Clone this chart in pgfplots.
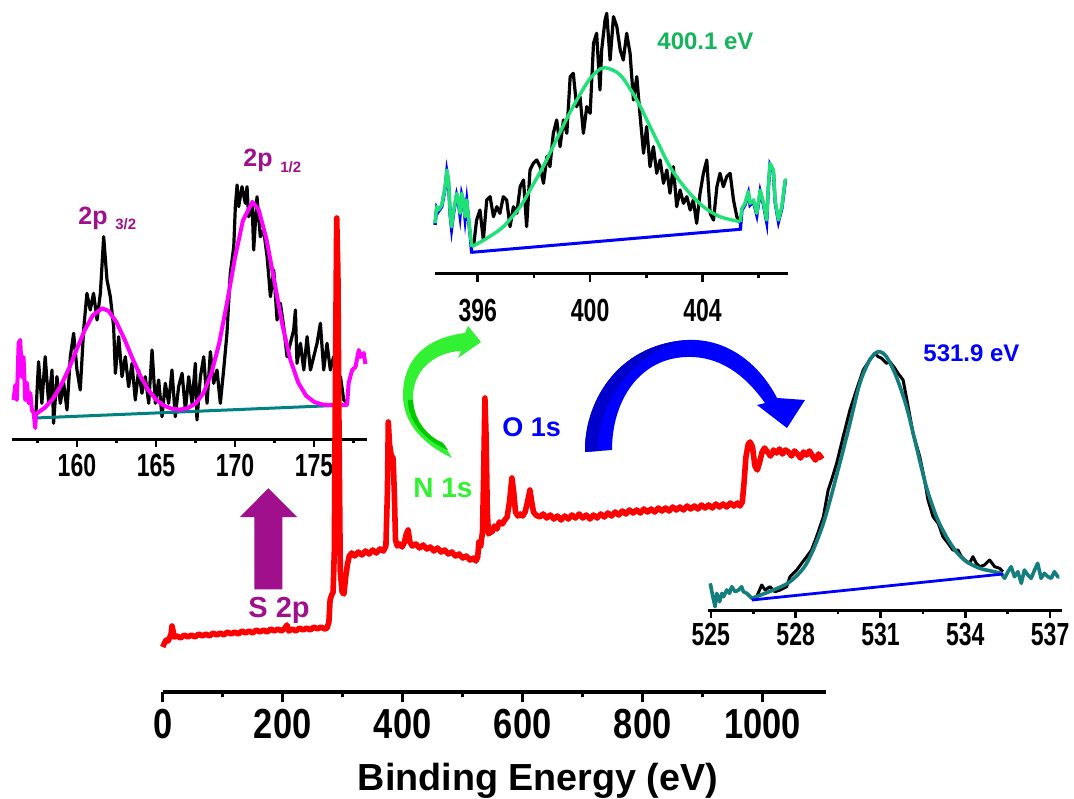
\documentclass[border=0pt]{standalone}
\usepackage{fontspec}
\setmainfont{Liberation Sans}
\newfontfamily\tickfont[FakeStretch=0.82]{Liberation Sans}
\newfontfamily\insetfont[FakeStretch=0.72]{Liberation Sans}
\usepackage{pgfplots}
\pgfplotsset{compat=1.18}

\definecolor{spurple}{RGB}{160,16,140}
\definecolor{fitmag}{RGB}{255,0,255}
\definecolor{fitgreen}{RGB}{30,225,120}
\definecolor{lblgreen}{RGB}{20,180,90}
\definecolor{ngreen}{RGB}{50,240,50}
\definecolor{dgreen}{RGB}{0,200,0}
\definecolor{oteal}{RGB}{20,125,125}
\definecolor{steal}{RGB}{0,130,130}
\definecolor{dblue}{RGB}{0,0,205}
\definecolor{pblue}{RGB}{0,0,255}
\definecolor{pred}{RGB}{255,0,0}

\pgfplotsset{
  inset/.style={scale only axis, anchor=south west, clip=false,
    axis x line*=bottom, axis y line=none, axis line style={line width=1.5pt,-},
    tick align=outside, major tick length=4pt, minor tick length=2pt,
    every tick/.style={black, line width=1.3pt}, ymin=0,
    /pgf/number format/assume math mode=true,
    xticklabel style={font=\insetfont\bfseries\fontsize{16}{16}\selectfont}},
}

\begin{document}
\begin{tikzpicture}
\useasboundingbox (0,0) rectangle (537pt,399pt);

% ---- S 2p inset
\begin{axis}[inset, at={(6pt,179.5pt)}, width=177.5pt, height=100pt,
  xmin=155.89, xmax=178.35, ymax=200,
  xtick={160,165,170,175}, minor xtick={157.5,162.5,167.5,172.5,177.5}]
\addplot[black, line width=1.6pt, line join=round] coordinates {
(157.36,12.3)(157.57,77.3)(157.78,35.7)(157.99,82.3)(158.21,35.7)(158.42,69)(158.52,15.7)
(158.73,62.3)(158.95,35.7)(159.16,55.7)(159.37,29)(159.58,82.3)(159.79,105.7)(160.00,69)
(160.21,49)(160.42,109)(160.63,145.7)(160.84,129)(161.05,145.7)(161.27,119)(161.48,145.7)
(161.69,202.3)(161.90,159)(162.11,142.3)(162.32,112.3)(162.43,65.7)(162.64,102.3)(162.85,62.3)
(163.06,82.3)(163.27,52.3)(163.48,75.7)(163.69,39)(163.90,69)(164.11,45.7)(164.32,62.3)
(164.54,35.7)(164.75,89)(164.96,35.7)(165.17,59)(165.38,22.3)(165.59,55.7)(165.80,35.7)
(166.01,69)(166.22,22.3)(166.43,52.3)(166.65,65.7)(166.86,29)(167.07,62.3)(167.28,35.7)
(167.49,75.7)(167.59,19)(167.81,62.3)(168.02,82.3)(168.23,35.7)(168.44,87.3)(168.65,55.7)
(168.86,69)(169.07,35.7)(169.28,69)(169.49,105.7)(169.70,165.7)(169.92,192.3)(170.02,232.3)
(170.13,254)(170.23,232.3)(170.44,252.3)(170.65,235.7)(170.76,252.3)(170.86,222.3)(171.08,235.7)
(171.18,189)(171.39,242.3)(171.60,202.3)(171.81,209)(172.03,182.3)(172.24,142.3)(172.45,169)
(172.66,119)(172.87,135.7)(173.08,112.3)(173.29,82.3)(173.50,95.7)(173.71,109)(173.82,129)
(173.92,75.7)(174.14,95.7)(174.35,69)(174.56,102.3)(174.77,69)(174.98,82.3)(175.19,95.7)
(175.40,115.7)(175.61,69)(175.82,95.7)(176.03,69)(176.24,82.3)(176.46,52.3)(176.67,62.3)
(176.88,39)(177.09,35.7)};
\addplot[steal, line width=1.5pt] coordinates {(157.36,21)(177.09,34)};
\addplot[fitmag, line width=2pt, line join=round] coordinates {
(155.99,39)(156.10,54)(156.20,39)(156.31,96)(156.41,99)(156.52,62)(156.62,82)(156.73,39)
(156.84,56)(156.94,36)(157.05,46)(157.15,29)(157.26,26)(157.36,11)(157.40,25)
(157.6,27.1)(158.0,31.8)(158.5,40.7)(159.0,53.9)(159.5,70.8)(160.0,90.2)(160.5,109.1)
(161.0,123.6)(161.6,130.7)(162.0,128.0)(162.5,116.8)(163.0,100.0)(163.5,81.0)(164.0,63.4)
(164.5,49.4)(165.0,39.5)(165.5,33.4)(166.0,30.3)(166.5,29.4)(167.0,30.8)(167.5,35.5)
(168.0,45.8)(168.5,65.3)(169.0,95.9)(169.5,136.7)(170.0,181.4)(170.5,218.5)(171.1,237.1)
(171.5,229.1)(172.0,199.1)(172.5,156.7)(173.0,113.8)(173.5,79.3)(174.0,56.3)(174.5,43.2)
(175.0,37.1)(175.5,34.6)(176.0,33.9)(176.7,34)(177.09,34)
(177.19,56)(177.41,69)(177.62,72)(177.83,89)(177.93,82)(178.14,86)(178.25,75)};
\end{axis}

% ---- N 1s inset
\begin{axis}[inset, at={(217.5pt,262pt)}, width=176.5pt, height=135pt,
  xmin=394.48, xmax=407.04, ymax=270,
  xtick={396,400,404}, minor xtick={398,402,406},
  xticklabel style={yshift=-5pt}]
\addplot[black, line width=1.6pt, line join=round] coordinates {
(395.85,27.3)(395.96,54)(396.08,64)(396.20,34)(396.32,74)(396.44,77.3)(396.56,57.3)
(396.68,67.3)(396.79,60.7)(396.91,77.3)(397.03,74)(397.15,47.3)(397.27,67.3)(397.39,60.7)
(397.51,87.3)(397.63,94)(397.74,47.3)(397.86,104)(397.98,110.7)(398.10,114)(398.22,107.3)
(398.34,90.7)(398.46,117.3)(398.57,107.3)(398.69,140.7)(398.81,154)(398.93,127.3)(399.05,154)
(399.17,140.7)(399.29,197.3)(399.40,200.7)(399.52,167.3)(399.64,177.3)(399.76,140.7)(399.88,167.3)
(400.00,160.7)(400.12,230.7)(400.23,240.7)(400.35,184)(400.41,224)(400.53,254)(400.59,260.7)
(400.71,214)(400.83,257.3)(400.95,247.3)(401.07,224)(401.18,214)(401.30,240.7)(401.42,220.7)
(401.54,174)(401.66,197.3)(401.78,157.3)(401.90,120.7)(402.01,147.3)(402.13,107.3)(402.25,127.3)
(402.37,100.7)(402.49,114)(402.61,90.7)(402.73,104)(402.84,80.7)(402.96,107.3)(403.08,67.3)
(403.20,84)(403.32,70.7)(403.44,77.3)(403.56,64)(403.67,74)(403.79,50.7)(403.91,80.7)
(404.03,100.7)(404.15,114)(404.27,60.7)(404.39,54)(404.51,87.3)(404.62,100.7)(404.74,87.3)
(404.86,97.3)(404.98,100.7)(405.10,74)(405.22,57.3)(405.34,50.7)};
\addplot[pblue, line width=1.5pt] coordinates {(395.79,21.7)(405.34,44.7)};
\addplot[pblue, line width=1.7pt, yshift=-0.8pt] coordinates {
(394.48,50.7)(394.54,67.3)(394.60,64)(394.72,69)(394.84,87.3)(394.90,104)(394.96,94)
(395.02,60.7)(395.07,47.3)(395.13,60.7)(395.25,80.7)(395.31,74)(395.37,60.7)(395.43,80.7)
(395.49,74)(395.55,57.3)(395.61,74)(395.67,57.3)(395.73,40.7)(395.79,22)};
\addplot[pblue, line width=1.7pt, yshift=-0.8pt] coordinates {
(405.34,45)(405.40,65.7)(405.51,70.7)(405.63,82.3)(405.69,70.7)(405.81,74)(405.93,60.7)
(406.05,84)(406.17,70.7)(406.28,54)(406.34,87.3)(406.40,110.7)(406.52,104)(406.58,74)
(406.70,54)(406.82,67.3)(406.94,94)(407.00,94)};
\addplot[fitgreen, line width=1.7pt, line join=round] coordinates {
(394.48,50.7)(394.54,67.3)(394.60,64)(394.72,69)(394.84,87.3)(394.90,104)(394.96,94)
(395.02,60.7)(395.07,47.3)(395.13,60.7)(395.25,80.7)(395.31,74)(395.37,60.7)(395.43,80.7)
(395.49,74)(395.55,57.3)(395.61,74)(395.67,57.3)(395.73,40.7)(395.79,27.3)};
\addplot[fitgreen, line width=1.7pt, smooth] coordinates {
(395.79,27.3)(396.32,35.7)(396.91,47.3)(397.51,67.3)(397.86,84)(398.34,108)(398.69,128)
(399.29,162)(399.88,190.7)(400.23,202.3)(400.53,206.3)(401.07,199)(401.66,174)(402.25,140.7)
(402.84,107.3)(403.44,84)(404.03,67.3)(404.62,57.3)(405.34,52.3)};
\addplot[fitgreen, line width=1.7pt, line join=round] coordinates {
(405.34,52.3)(405.40,65.7)(405.51,70.7)(405.63,82.3)(405.69,70.7)(405.81,74)(405.93,60.7)
(406.05,84)(406.17,70.7)(406.28,54)(406.34,87.3)(406.40,110.7)(406.52,104)(406.58,74)
(406.70,54)(406.82,67.3)(406.94,94)(407.00,94)};
\end{axis}

% ---- O 1s inset
\begin{axis}[inset, at={(354pt,94pt)}, width=176.85pt, height=135pt,
  xmin=524.9, xmax=537.41, ymax=270,
  xtick={525,528,531,534,537}, minor xtick={526.5,529.5,532.5,535.5},
  xticklabel style={yshift=1pt}]
\addplot[black, line width=1.5pt, line join=round] coordinates {
(526.45,10)(526.62,13.3)(526.80,25)(526.92,20)(527.09,23.3)(527.27,18.3)(527.45,20)
(527.68,23.3)(527.80,33.3)(527.92,36.7)(528.04,40)(528.21,46.7)(528.39,53.3)(528.56,60)
(528.74,73.3)(528.98,93.3)(529.15,120)(529.27,130)(529.45,146.7)(529.68,173.3)(529.92,200)
(530.15,220)(530.39,240)(530.62,250)(530.80,256.7)(530.92,253.3)(531.04,251.7)(531.21,246.7)
(531.33,248.3)(531.51,241.7)(531.62,236.7)(531.80,230)(531.98,203.3)(532.15,176.7)(532.39,153.3)
(532.56,130)(532.68,110)(532.86,93.3)(533.04,86.7)(533.21,73.3)(533.39,66.7)(533.56,60)
(533.74,60)(533.86,53.3)(533.98,50)(534.15,46.7)(534.27,53.3)(534.39,46.7)(534.51,43.3)
(534.68,45)(534.86,50)(535.04,43.3)(535.21,41.7)(535.33,38.3)};
\addplot[oteal, line width=1.8pt, line join=round] coordinates {
(524.98,26.7)(525.07,13.3)(525.15,3.3)(525.21,16.7)(525.31,8.3)(525.39,16.7)(525.45,13.3)
(525.56,20)(525.66,16.7)(525.74,23.3)(525.86,18.3)(525.98,20)(526.09,23.3)(526.15,18.3)
(526.27,16.7)(526.45,11.7)};
\addplot[oteal, line width=1.8pt, smooth] coordinates {
(526.45,11.7)(527.21,20)(527.80,28.3)(528.39,46.7)(528.98,86.7)(529.56,146.7)(529.92,186.7)
(530.27,226.7)(530.62,250)(530.92,258.3)(531.21,253.3)(531.56,233.3)(531.92,203.3)(532.27,163.3)
(532.62,123.3)(532.98,93.3)(533.33,73.3)(533.68,58.3)(534.04,48.3)(534.51,41.7)(534.86,39.3)
(535.27,36.7)};
\addplot[oteal, line width=1.8pt, line join=round] coordinates {
(535.27,36.7)(535.39,31.7)(535.51,38.3)(535.62,43.3)(535.74,33.3)(535.86,38.3)(535.98,26.7)
(536.09,40)(536.21,35)(536.33,31.7)(536.45,40)(536.56,46.7)(536.68,31.7)(536.80,36.7)
(536.92,33.3)(537.04,31.7)(537.15,38.3)(537.27,33.3)(537.33,33.3)};
\addplot[pblue, line width=1.4pt] coordinates {(526.45,10)(535.33,36)};
\end{axis}

% ---- survey spectrum
\begin{axis}[scale only axis, anchor=south west, at={(81.35pt,53pt)},
  width=331.5pt, height=250pt, xmin=0, xmax=1105, ymin=0, ymax=500, clip=false,
  axis x line*=bottom, axis y line=none, axis line style={line width=1.6pt,-},
  tick align=outside, major tick length=5pt, minor tick length=2.5pt,
  every tick/.style={black, line width=1.5pt},
  xtick={0,200,400,600,800,1000}, minor xtick={100,300,500,700,900},
  /pgf/number format/assume math mode=true, /pgf/number format/1000 sep={},
  xticklabel style={font=\tickfont\bfseries\fontsize{21}{21}\selectfont},
  xlabel={Binding Energy (eV)},
  xlabel style={font=\bfseries\fontsize{18.85}{20}\selectfont,
    at={(axis description cs:0.566,0)}, anchor=base, yshift=-49pt}]
\addplot[pred, line width=2.8pt, line join=round] coordinates {
(0,45)(3,49)(6,52)(9,51)(12,55)(14,58)(15.5,66)(17,62)(19,55)(24,56)(30,54)(36,57)(42,55)
(48,57)(54,55)(60,58)(66,56)(72,58)(78,56)(84,59)(90,57)(96,59)(102,57)(108,60)(114,58)
(120,60)(126,58)(132,61)(138,59)(144,61)(150,59)(156,62)(162,60)(168,62)(174,60)(180,63)
(186,61)(192,63)(198,61)(204,64)(207,67)(210,61)(216,63)(222,61)(228,64)(234,62)(240,64)
(246,62)(252,65)(258,63)(264,65)(270,63)(274,64)(277,70)(279,92)(281,96)(284,100)(286,140)
(288,320)(290,474)(292,420)(294,250)(296,120)(299,100)(302,98)(305,115)(308,128)(311,136)
(315,139)(320,136)(326,140)(332,137)(338,141)(344,138)(350,142)(356,139)(362,143)(368,141)
(372,146)(374.5,200)(376,270)(378,248)(381,236)(384,234)(386,200)(388,152)(391,146)(395,148)
(399,145)(403,150)(406,158)(409,162)(412,150)(416,146)(422,148)(428,144)(434,147)(440,143)
(446,145)(452,141)(458,144)(464,140)(470,142)(476,138)(482,140)(488,136)(494,138)(500,134)
(506,136)(512,132)(518,134)(522,131)(525,135)(527,150)(530,146)(533,160)(535,220)(537,294)
(539,255)(541,180)(543,158)(546,160)(549,160)(553,166)(557,163)(561,170)(566,168)(570,172)
(574,175)(578,190)(582,214)(585,200)(588,180)(592,176)(596,178)(600,176)(604,180)(608,190)
(612,202)(615,190)(618,180)(622,177)(628,175)(634,178)(640,174)(646,177)(652,173)(658,176)
(664,172)(670,176)(676,173)(682,177)(688,174)(694,178)(700,174)(706,177)(712,173)(718,177)
(724,174)(730,178)(736,175)(742,179)(748,176)(754,180)(760,177)(766,181)(772,178)(778,182)
(784,179)(790,182)(796,179)(802,183)(808,180)(814,183)(820,180)(826,184)(832,181)(838,184)
(844,181)(850,185)(856,182)(862,185)(868,182)(874,186)(880,183)(886,186)(892,183)(898,187)
(904,184)(910,187)(916,184)(922,188)(928,185)(934,188)(940,185)(946,189)(952,186)(958,189)
(962,186)(966,190)(969,210)(972,235)(976,248)(979,250)(983,245)(987,226)(991,222)(995,230)
(999,240)(1003,244)(1008,240)(1013,236)(1018,242)(1023,239)(1028,243)(1033,238)(1038,242)
(1043,240)(1048,236)(1053,241)(1058,238)(1063,234)(1068,240)(1073,237)(1078,241)(1083,236)
(1088,232)(1093,238)(1099,233)};
\end{axis}

% ---- annotations, in pixel coordinates of the figure
\begin{scope}[x=0.5pt, y=-0.5pt, yshift=399pt]
\fill[spurple] (254.3,589.3) -- (254.3,517) -- (240,517) -- (268.3,488.3) -- (297,517)
  -- (282.3,517) -- (282.3,589.3) -- cycle;
\fill[ngreen] (452,458) .. controls (425,445) and (403,425) .. (403,395)
  .. controls (403,360) and (425,338) .. (465,333) -- (468,326) -- (481,342) -- (458,358)
  -- (461,351) .. controls (435,352) and (413,370) .. (413,397)
  .. controls (413,420) and (428,437) .. (443,443) -- cycle;
\fill[dgreen] (443,443) .. controls (428,437) and (413,420) .. (413,400)
  -- (408,400) .. controls (408,424) and (428,442) .. (448,450) -- cycle;
\fill[pblue] (585,452) .. controls (584,405) and (615,345) .. (687,340)
  .. controls (728,338) and (760,365) .. (777,398) -- (805,400) -- (787,428) -- (757,405)
  -- (765,403) .. controls (745,375) and (720,356) .. (687,357)
  .. controls (640,358) and (612,400) .. (612,450) -- cycle;
\fill[dblue] (585,452) .. controls (584,405) and (615,345) .. (687,340)
  .. controls (650,345) and (597,390) .. (598,451) -- cycle;
\begin{scope}[every node/.style={inner sep=0pt, anchor=base west, font=\bfseries}]
\node[spurple, font=\bfseries\fontsize{12.5}{13}\selectfont] at (78,225) {2p};
\node[spurple, font=\bfseries\fontsize{7.5}{8}\selectfont] at (115,230) {3/2};
\node[spurple, font=\bfseries\fontsize{12.5}{13}\selectfont] at (243,167) {2p};
\node[spurple, font=\bfseries\fontsize{7.5}{8}\selectfont] at (280,173) {1/2};
\node[lblgreen, font=\bfseries\fontsize{12}{13}\selectfont] at (657,50) {400.1 eV};
\node[pblue, font=\bfseries\fontsize{12}{13}\selectfont] at (923,362) {531.9 eV};
\node[ngreen, font=\bfseries\fontsize{14}{15}\selectfont] at (413,497) {N 1s};
\node[pblue, font=\bfseries\fontsize{13.5}{14}\selectfont] at (502,437) {O 1s};
\node[spurple, font=\bfseries\fontsize{14.5}{15}\selectfont] at (248,617) {S 2p};
\end{scope}
\end{scope}
\end{tikzpicture}
\end{document}
